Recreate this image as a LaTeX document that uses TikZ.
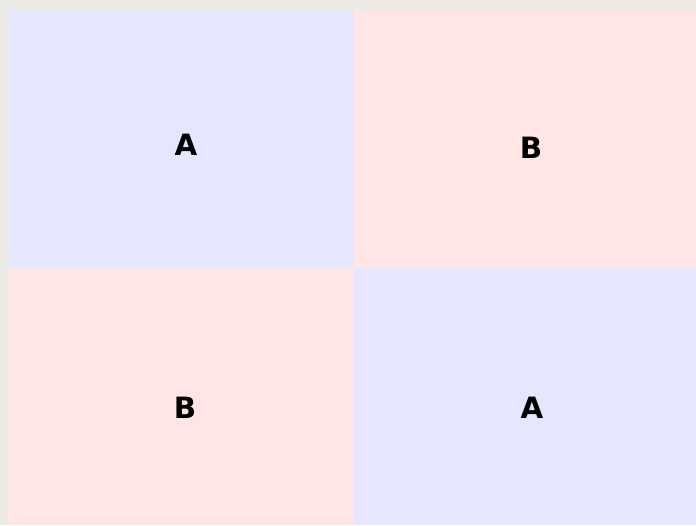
\documentclass[tikz,border=0pt]{standalone}
\usepackage{fontspec}
\setmainfont{DejaVu Sans}
\usetikzlibrary{positioning}
\definecolor{paper}{HTML}{ECEAE5}
\definecolor{cellblue}{HTML}{E5E7FF}
\definecolor{cellpink}{HTML}{FFE6E4}

\begin{document}
\begin{tikzpicture}[
x=0.75pt, y=-0.75pt,
cell/.style={draw=none},
letter/.style={font=\fontsize{22}{26}\selectfont\bfseries, inner sep=0pt}
]

% paper and bounding box
\fill[paper] (0,0) rectangle (696,525);
\useasboundingbox (0,0) rectangle (696,525);

% the four cells
\fill[cell, cellblue] (8,10) rectangle (354,268);
\fill[cell, cellpink] (354,10) rectangle (696,268);
\fill[cell, cellpink] (8,268) rectangle (354,525);
\fill[cell, cellblue] (354,268) rectangle (696,525);

\node[letter] (a1) at (186,145) {A};
\node[letter] (b1) at (531,148) {B};
\node[letter] (b2) at (185,408) {B};
\node[letter] (a2) at (532,408) {A};

\end{tikzpicture}
\end{document}
